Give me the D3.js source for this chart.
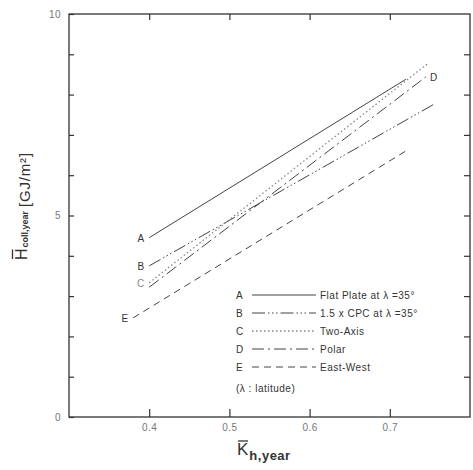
<!DOCTYPE html>
<html>

<head>
    <meta charset="UTF-8">
    <style>
        body { margin: 0; background: #fff; }
        svg text { font-family: "Liberation Sans", Arial, sans-serif; fill: #333; }
    </style>
</head>

<body>
    <script src="https://d3js.org/d3.v7.min.js"></script>
    <div id="chart"></div>
    <script>
        // series: [K_h,year, H_coll,year] endpoints
        const seriesIds = ["A", "B", "C", "D", "E"];
        const lineA = [[0.40, 4.45], [0.72, 8.38]];
        const lineB = [[0.40, 3.75], [0.755, 7.76]];
        const lineC = [[0.40, 3.33], [0.748, 8.78]];
        const lineD = [[0.40, 3.22], [0.745, 8.44]];
        const lineE = [[0.38, 2.46], [0.72, 6.60]];
        const legendNames = ["Flat Plate at \u03bb =35\u00b0", "1.5 x CPC at \u03bb =35\u00b0",
            "Two-Axis", "Polar", "East-West"];
        const xTicks = [0.4, 0.5, 0.6, 0.7];
        const yTicks = [0, 1, 2, 3, 4, 5, 6, 7, 8, 9, 10];
        const yLabelled = [0, 5, 10];

        const lines = [lineA, lineB, lineC, lineD, lineE];
        const dashes = ["none", "13,3,1.5,2.5,1.5,2.5,1.5,3", "1.5,2.5", "12,4,2,4", "7,5"];

        const margin = { top: 14, right: 3, bottom: 53, left: 69 },
            width = 473 - margin.left - margin.right,
            height = 470 - margin.top - margin.bottom;

        const root = d3.select("#chart")
            .append("svg")
            .attr("width", 473)
            .attr("height", 470);

        const svg = root.append("g")
            .attr("transform", `translate(${margin.left}, ${margin.top})`);

        const x = d3.scaleLinear().domain([0.3, 0.8]).range([0, width]);
        const y = d3.scaleLinear().domain([0, 10]).range([height, 0]);

        // frame
        svg.append("rect")
            .attr("width", width).attr("height", height)
            .attr("fill", "none").attr("stroke", "#333").attr("stroke-width", 1.3);

        // axes, ticks pointing inward
        const axisStyle = g => {
            g.select(".domain").remove();
            g.selectAll("line").attr("stroke", "#333").attr("stroke-width", 1.2);
            g.selectAll("text").style("font-size", "10px").style("fill", "#777")
                .attr("letter-spacing", "0.5px");
        };

        svg.append("g")
            .attr("transform", `translate(0, ${height})`)
            .call(d3.axisBottom(x).tickValues(xTicks).tickSize(-8).tickPadding(7)
                .tickFormat(d3.format(".1f")))
            .call(axisStyle);

        svg.append("g")
            .call(d3.axisTop(x).tickValues(xTicks).tickSize(-6).tickFormat(""))
            .call(axisStyle);

        svg.append("g")
            .call(d3.axisLeft(y).tickValues(yTicks).tickSize(-5).tickPadding(8)
                .tickFormat(d => yLabelled.includes(d) ? d : ""))
            .call(axisStyle);

        svg.append("g")
            .attr("transform", `translate(${width}, 0)`)
            .call(d3.axisRight(y).tickValues(yTicks.slice(1, -1)).tickSize(-6).tickFormat(""))
            .call(axisStyle);

        // series lines
        const line = d3.line().x(d => x(d[0])).y(d => y(d[1]));
        svg.selectAll("path.series")
            .data(lines)
            .enter()
            .append("path")
            .attr("class", "series")
            .attr("d", line)
            .attr("fill", "none")
            .attr("stroke", (d, i) => i == 2 ? "#888" : "#444")
            .attr("stroke-width", (d, i) => i == 2 ? 1.3 : 1)
            .attr("stroke-dasharray", (d, i) => dashes[i]);

        // letters at line ends
        lines.forEach((l, i) => {
            const p = seriesIds[i] == "D" ? l[1] : l[0];
            svg.append("text")
                .attr("x", seriesIds[i] == "D" ? x(p[0]) + 4 : x(p[0]) - 5)
                .attr("y", y(p[1]) + 4)
                .attr("text-anchor", seriesIds[i] == "D" ? "start" : "end")
                .style("font-size", "10px")
                .style("fill", seriesIds[i] == "C" ? "#888" : "#333")
                .text(seriesIds[i]);
        });

        // legend
        const legend = root.append("g").attr("transform", "translate(236, 295)");
        seriesIds.forEach((id, i) => {
            const row = legend.append("g").attr("transform", `translate(0, ${i * 18})`);
            row.append("text").attr("x", 0).attr("y", 4).style("font-size", "10px").text(id);
            row.append("line")
                .attr("x1", 16).attr("x2", 80).attr("y1", 0).attr("y2", 0)
                .attr("stroke", i == 2 ? "#888" : "#444")
                .attr("stroke-width", i == 2 ? 1.3 : 1)
                .attr("stroke-dasharray", dashes[i]);
            row.append("text").attr("x", 84).attr("y", 4).style("font-size", "10px")
                .attr("letter-spacing", "0.5px").text(legendNames[i]);
        });
        legend.append("text").attr("x", 0).attr("y", 5 * 18 + 7)
            .style("font-size", "10px").attr("letter-spacing", "0.5px").text("(\u03bb : latitude)");

        // x axis title
        const xt = root.append("text").attr("x", 237).attr("y", 455);
        xt.append("tspan").style("font-size", "17px").text("K");
        xt.append("tspan").attr("dy", 5).attr("dx", 1).style("font-size", "13px")
            .style("font-weight", "bold").attr("letter-spacing", "0.5px").text("h,year");
        const kb = xt.select("tspan").node().getBBox();
        root.append("line").attr("x1", kb.x + 1).attr("x2", kb.x + kb.width - 1)
            .attr("y1", kb.y + 1).attr("y2", kb.y + 1).attr("stroke", "#333").attr("stroke-width", 1.3);

        // y axis title (rotated)
        const yg = root.append("g").attr("transform", "translate(27, 260) rotate(-90)");
        const yt = yg.append("text").attr("x", 0).attr("y", 0);
        yt.append("tspan").style("font-size", "16px").text("H");
        yt.append("tspan").attr("dy", 1).attr("dx", 1).style("font-size", "9px")
            .style("font-weight", "bold").text("coll,year");
        yt.append("tspan").attr("dy", 2).attr("dx", 4).style("font-size", "15px")
            .attr("letter-spacing", "0.8px").text("[GJ/m\u00b2]");
        const hb = yt.select("tspan").node().getBBox();
        yg.append("line").attr("x1", hb.x + 1).attr("x2", hb.x + hb.width - 1)
            .attr("y1", hb.y - 0.5).attr("y2", hb.y - 0.5).attr("stroke", "#333").attr("stroke-width", 1.3);
    </script>
</body>

</html>
